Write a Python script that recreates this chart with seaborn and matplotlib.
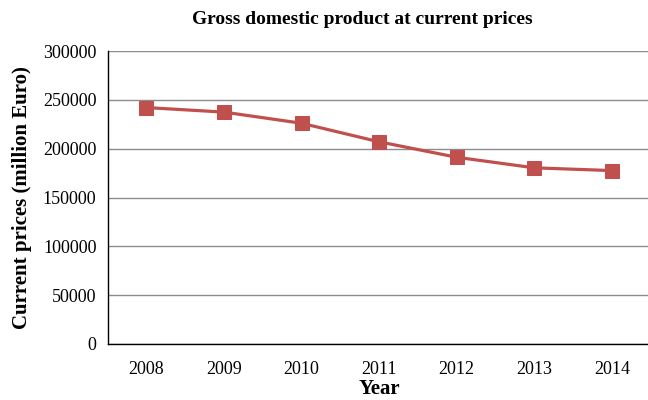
import numpy as np
import pandas as pd
import matplotlib
matplotlib.use('Agg')
import matplotlib.pyplot as plt
import seaborn as sns

# Dados do gráfico (milhões de euros)
anos = [2008, 2009, 2010, 2011, 2012, 2013, 2014]
pib = [242096, 237431, 226031, 207029, 191204, 180389, 177559]
yticks = [0, 50000, 100000, 150000, 200000, 250000, 300000]

df = pd.DataFrame({'Year': anos, 'GDP': pib})

sns.set_style('white')
plt.rcParams['font.family'] = ['Liberation Serif', 'DejaVu Serif']
plt.rcParams['text.color'] = 'black'
plt.rcParams['axes.labelcolor'] = 'black'
plt.rcParams['xtick.color'] = 'black'
plt.rcParams['ytick.color'] = 'black'

fig = plt.figure(figsize=(6.48, 4.0), dpi=100)
ax = fig.add_axes([0.166, 0.14, 0.838, 0.7325])

sns.lineplot(data=df, x='Year', y='GDP', ax=ax, color='#C0504D', linewidth=2.3,
             marker='s', markersize=9.5, markeredgecolor='#C0504D', zorder=3)

ax.set_xlim(anos[0] - 0.5, anos[-1] + 0.5)
ax.set_ylim(yticks[0], yticks[-1])
ax.set_yticks(yticks)
ax.set_yticklabels([str(v) for v in yticks], fontsize=13)
ax.set_xticks(anos)
ax.set_xticklabels([str(a) for a in anos], fontsize=13)
ax.set_xticks([a - 0.5 for a in anos] + [anos[-1] + 0.5], minor=True)
ax.tick_params(axis='x', which='major', length=0, pad=12)
ax.tick_params(axis='x', which='minor', length=5, width=1, color='black', direction='out')
ax.tick_params(axis='y', which='major', length=4, width=1, color='black', direction='out', pad=4)

ax.grid(axis='y', color='#8c8c8c', linewidth=1)
ax.set_axisbelow(True)
for s in ['top', 'right']:
    ax.spines[s].set_visible(False)
for s in ['left', 'bottom']:
    ax.spines[s].set_color('black')
    ax.spines[s].set_linewidth(1)

ax.set_xlabel('Year', fontsize=15, fontweight='bold', labelpad=1)
ax.set_ylabel('Current prices (million Euro)', fontsize=15, fontweight='bold', labelpad=8)
fig.text(0.559, 0.95, 'Gross domestic product at current prices', ha='center', va='center',
         fontsize=14, fontweight='bold')

fig.savefig('out.png', dpi=100)
